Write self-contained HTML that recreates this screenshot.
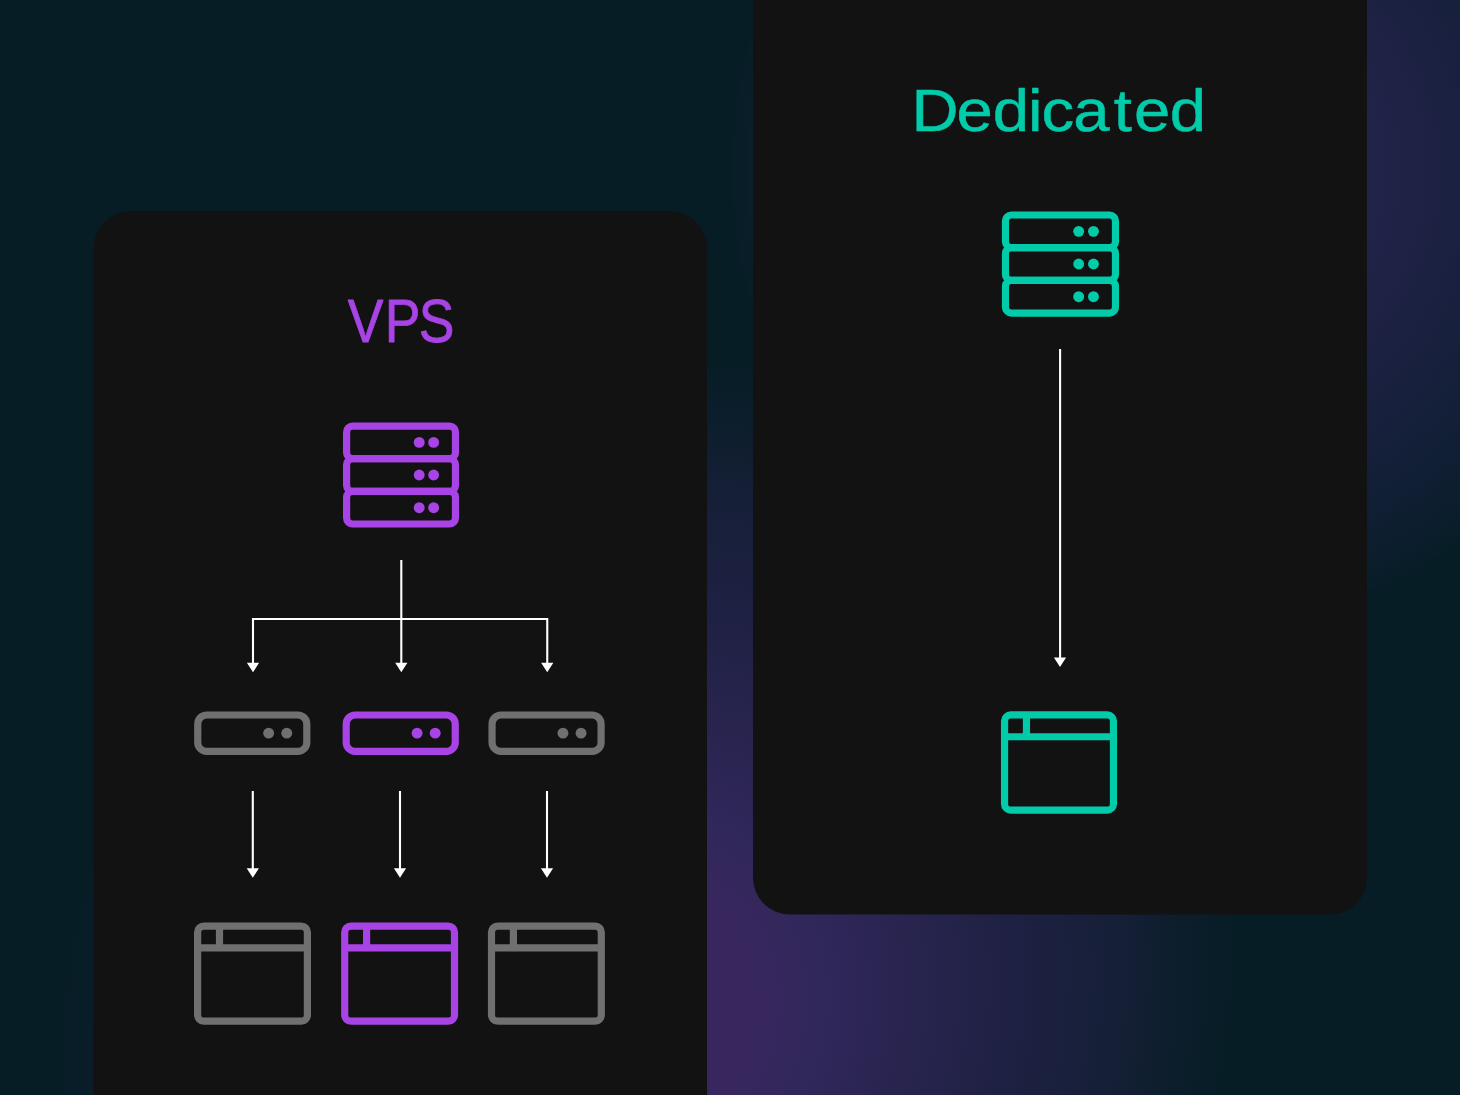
<!DOCTYPE html>
<html>
<head>
<meta charset="utf-8">
<title>VPS vs Dedicated</title>
<style>
  html, body { margin: 0; padding: 0; background: #061d25; }
  body { width: 1460px; height: 1095px; overflow: hidden; font-family: "Liberation Sans", sans-serif; }
  svg { display: block; }
  text { font-family: "Liberation Sans", sans-serif; }
</style>
</head>
<body>
<svg width="1460" height="1095" viewBox="0 0 1460 1095">
  <defs>
    <!-- purple glow bottom-centre (tilted ellipse) -->
    <radialGradient id="glowA" gradientUnits="userSpaceOnUse" cx="0" cy="0" r="1" gradientTransform="translate(646.5 1014.2) rotate(20.9) scale(585.1 672.1)">
      <stop offset="0.00" stop-color="#38275e"/>
      <stop offset="0.20" stop-color="#37275e"/>
      <stop offset="0.25" stop-color="#34275c"/>
      <stop offset="0.30" stop-color="#30275a"/>
      <stop offset="0.35" stop-color="#2d2656"/>
      <stop offset="0.40" stop-color="#2a2552"/>
      <stop offset="0.50" stop-color="#25234b"/>
      <stop offset="0.60" stop-color="#1f2144"/>
      <stop offset="0.70" stop-color="#1a203d"/>
      <stop offset="0.80" stop-color="#151f36"/>
      <stop offset="0.85" stop-color="#151f36" stop-opacity="0.69"/>
      <stop offset="0.90" stop-color="#151f36" stop-opacity="0.37"/>
      <stop offset="0.95" stop-color="#151f36" stop-opacity="0.19"/>
      <stop offset="1.00" stop-color="#151f36" stop-opacity="0.00"/>
    </radialGradient>
    <!-- navy glow top-right -->
    <radialGradient id="glowB" gradientUnits="userSpaceOnUse" cx="0" cy="0" r="1" gradientTransform="translate(1190 170) scale(465 465)">
      <stop offset="0"    stop-color="#25264d"/>
      <stop offset="0.38" stop-color="#222349"/>
      <stop offset="0.58" stop-color="#1b2141"/>
      <stop offset="0.79" stop-color="#121f36"/>
      <stop offset="0.92" stop-color="#121f36" stop-opacity="0.5"/>
      <stop offset="1"    stop-color="#121f36" stop-opacity="0"/>
    </radialGradient>

  </defs>

  <!-- background -->
  <rect width="1460" height="1095" fill="#061d25"/>
  <rect width="1460" height="1095" fill="url(#glowB)"/>
  <rect width="1460" height="1095" fill="url(#glowA)"/>

  <!-- cards -->
  <rect x="93.4" y="211.3" width="613.6" height="960" rx="37" fill="#121212"/>
  <rect x="753" y="-80" width="614" height="994.6" rx="37" fill="#121212"/>

  <!-- VPS card -->
  <text transform="scale(0.8736 1)" x="398.09 440.40 479.21" y="342.1" font-size="61.2" fill="#a843e5" stroke="#a843e5" stroke-width="0.8" stroke-linejoin="round">VPS</text>
  <g fill="none" stroke="#a843e5" stroke-width="7.2">
    <rect x="346.60" y="426.05" width="108.87" height="32.65" rx="5.9"/>
    <rect x="346.60" y="458.70" width="108.87" height="32.65" rx="5.9"/>
    <rect x="346.60" y="491.35" width="108.87" height="32.65" rx="5.9"/>
  </g>
  <g fill="#a843e5">
    <circle cx="419.20" cy="442.38" r="5.45"/>
    <circle cx="433.65" cy="442.38" r="5.45"/>
    <circle cx="419.20" cy="475.02" r="5.45"/>
    <circle cx="433.65" cy="475.02" r="5.45"/>
    <circle cx="419.20" cy="507.68" r="5.45"/>
    <circle cx="433.65" cy="507.68" r="5.45"/>
  </g>

  <g stroke="#ffffff" stroke-width="2.1" fill="none">
    <path d="M401.3 560 V664"/>
    <path d="M253 664 V619 H547.25 V664"/>
    <path d="M252.8 791 V869 M400 791 V869 M547 791 V869"/>
  </g>
  <path d="M246.90 662.80 H259.10 L253.00 672.30 Z" fill="#ffffff"/>
  <path d="M395.20 662.80 H407.40 L401.30 672.30 Z" fill="#ffffff"/>
  <path d="M541.15 662.80 H553.35 L547.25 672.30 Z" fill="#ffffff"/>
  <path d="M246.70 868.30 H258.90 L252.80 877.80 Z" fill="#ffffff"/>
  <path d="M393.90 868.30 H406.10 L400.00 877.80 Z" fill="#ffffff"/>
  <path d="M540.90 868.30 H553.10 L547.00 877.80 Z" fill="#ffffff"/>

  <rect x="197.75" y="715.00" width="109.05" height="36.30" rx="8.9" fill="none" stroke="#707070" stroke-width="7.2"/>
  <circle cx="268.65" cy="733.15" r="5.45" fill="#707070"/><circle cx="286.75" cy="733.15" r="5.45" fill="#707070"/>
  <rect x="346.20" y="715.00" width="109.05" height="36.30" rx="8.9" fill="none" stroke="#a843e5" stroke-width="7.2"/>
  <circle cx="417.10" cy="733.15" r="5.45" fill="#a843e5"/><circle cx="435.20" cy="733.15" r="5.45" fill="#a843e5"/>
  <rect x="492.05" y="715.00" width="109.05" height="36.30" rx="8.9" fill="none" stroke="#707070" stroke-width="7.2"/>
  <circle cx="562.95" cy="733.15" r="5.45" fill="#707070"/><circle cx="581.05" cy="733.15" r="5.45" fill="#707070"/>

  <g fill="none" stroke="#707070" stroke-width="7.2">
    <rect x="197.60" y="926.10" width="109.80" height="95.05" rx="6.2"/>
    <path d="M197.60 947.95 H307.40 M219.50 926.10 V947.95"/>
  </g>
  <g fill="none" stroke="#a843e5" stroke-width="7.2">
    <rect x="344.70" y="926.10" width="109.80" height="95.05" rx="6.2"/>
    <path d="M344.70 947.95 H454.50 M366.60 926.10 V947.95"/>
  </g>
  <g fill="none" stroke="#707070" stroke-width="7.2">
    <rect x="491.50" y="926.10" width="109.80" height="95.05" rx="6.2"/>
    <path d="M491.50 947.95 H601.30 M513.40 926.10 V947.95"/>
  </g>

  <!-- Dedicated card -->
  <text transform="scale(1.0891 1)" x="836.91 878.22 911.48 944.01 956.36 985.52 1022.57 1041.20 1074.05" y="130.8" font-size="59.9" fill="#02cbaa" stroke="#02cbaa" stroke-width="0.5" stroke-linejoin="round">Dedicated</text>
  <g fill="none" stroke="#02cbaa" stroke-width="7.2">
    <rect x="1005.47" y="215.00" width="110.00" height="32.68" rx="5.9"/>
    <rect x="1005.47" y="247.68" width="110.00" height="32.68" rx="5.9"/>
    <rect x="1005.47" y="280.36" width="110.00" height="32.68" rx="5.9"/>
  </g>
  <g fill="#02cbaa">
    <circle cx="1078.67" cy="231.34" r="5.45"/>
    <circle cx="1093.47" cy="231.34" r="5.45"/>
    <circle cx="1078.67" cy="264.02" r="5.45"/>
    <circle cx="1093.47" cy="264.02" r="5.45"/>
    <circle cx="1078.67" cy="296.70" r="5.45"/>
    <circle cx="1093.47" cy="296.70" r="5.45"/>
  </g>
  <path d="M1060.1 349 V658" stroke="#ffffff" stroke-width="2.1" fill="none"/>
  <path d="M1053.90 657.40 H1066.10 L1060.00 666.90 Z" fill="#ffffff"/>
  <g fill="none" stroke="#02cbaa" stroke-width="7.2">
    <rect x="1004.55" y="714.90" width="108.90" height="95.20" rx="6.2"/>
    <path d="M1004.55 736.75 H1113.45 M1026.45 714.90 V736.75"/>
  </g>
</svg>
</body>
</html>
